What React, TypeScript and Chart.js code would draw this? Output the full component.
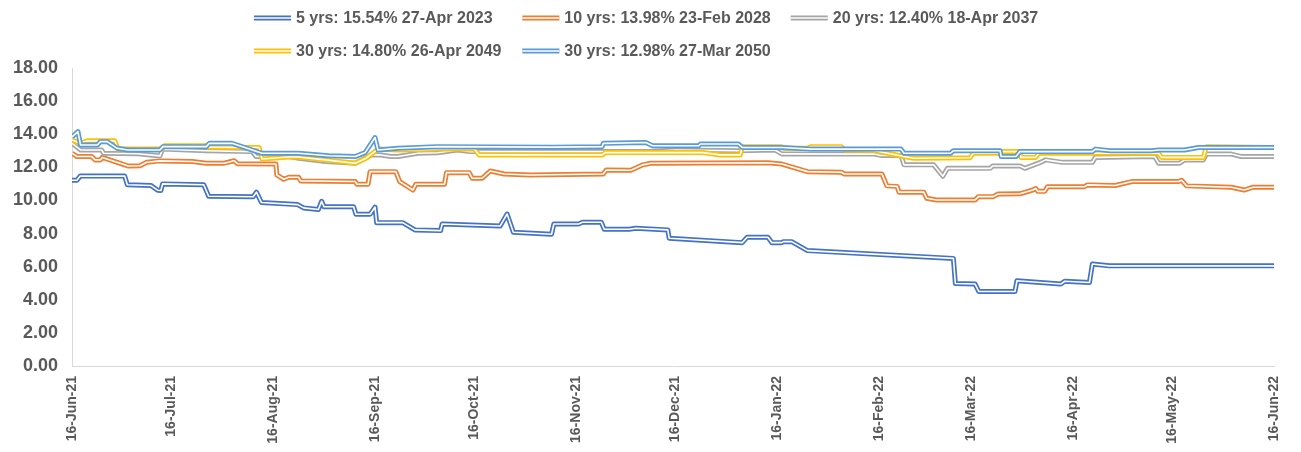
import React, { useEffect, useRef } from 'react';
import { Chart, registerables } from 'chart.js';

Chart.register(...registerables);

const seriesLabels = [
  '5 yrs: 15.54% 27-Apr 2023',
  '10 yrs: 13.98% 23-Feb 2028',
  '20 yrs: 12.40% 18-Apr 2037',
  '30 yrs: 14.80% 26-Apr 2049',
  '30 yrs: 12.98% 27-Mar 2050',
];
const seriesColors = ['#4472C4', '#ED7D31', '#A5A5A5', '#FFC000', '#5B9BD5'];

// x values are days since 16-Jun-21
const tickDays = [0, 30, 61, 92, 122, 153, 183, 214, 245, 273, 304, 334, 365];
const tickLabels = [
  '16-Jun-21', '16-Jul-21', '16-Aug-21', '16-Sep-21', '16-Oct-21', '16-Nov-21',
  '16-Dec-21', '16-Jan-22', '16-Feb-22', '16-Mar-22', '16-Apr-22', '16-May-22', '16-Jun-22',
];

const fiveYr: [number, number][] = [
  [0, 11.22], [1.5, 11.22], [2.5, 11.47], [16, 11.47], [16.8, 10.95], [24, 10.9], [26, 10.62], [27, 10.6],
  [27.5, 11.0], [40, 10.95], [41.5, 10.25], [55, 10.22], [56, 10.5], [57.5, 9.88], [68.5, 9.75], [70.3, 9.55],
  [74.8, 9.45], [75.8, 9.95], [76.5, 9.62], [85.5, 9.62], [86.2, 9.17], [90.5, 9.17], [92, 9.6], [92.5, 8.66],
  [100.4, 8.66], [104.1, 8.22], [111.9, 8.18], [112.4, 8.58], [130, 8.46], [132.1, 9.18], [134, 8.08],
  [145.6, 7.96], [146.3, 8.58], [153.8, 8.58], [155, 8.68], [160.7, 8.68], [161.6, 8.26], [169.1, 8.26],
  [171.2, 8.32], [180.9, 8.22], [181.3, 7.72], [203.5, 7.45], [205, 7.78], [211.3, 7.78], [212.5, 7.45],
  [215.5, 7.45], [216, 7.51], [218.5, 7.51], [223.3, 6.97], [267.6, 6.5], [268.2, 4.98], [274.2, 4.95],
  [275.3, 4.5], [286.3, 4.5], [286.9, 5.15], [300.2, 4.95], [301.4, 5.12], [308.9, 5.04], [309.8, 6.16],
  [314.9, 6.05], [365, 6.05],
];

const tenYr: [number, number][] = [
  [0, 12.85], [1.5, 12.65], [6, 12.65], [7, 12.45], [8.6, 12.45], [9.2, 12.6], [16, 12.15], [17, 12.08],
  [20.6, 12.1], [22.7, 12.31], [26.7, 12.39], [36.6, 12.35], [40.8, 12.25], [46.2, 12.25], [49.2, 12.4],
  [50.2, 12.22], [61.9, 12.2], [62.2, 11.54], [64.3, 11.28], [65.8, 11.4], [68.8, 11.4], [69.4, 11.18],
  [86, 11.14], [86.5, 10.98], [89.9, 10.98], [90.5, 11.74], [98.3, 11.74], [99.5, 11.14], [103.5, 10.63],
  [104.4, 10.98], [113.1, 10.98], [113.7, 11.68], [120.6, 11.68], [121.5, 11.34], [124.5, 11.34],
  [127, 11.78], [131.2, 11.6], [139, 11.54], [161.3, 11.6], [162.2, 11.84], [169.7, 11.82], [173.3, 12.15],
  [175.7, 12.25], [211.3, 12.28], [215.5, 12.2], [223.3, 11.74], [233.6, 11.7], [234.5, 11.6], [245.9, 11.6],
  [247.4, 10.88], [250.5, 10.85], [251.1, 10.5], [258.6, 10.5], [259.5, 10.13], [262.5, 10.03], [274.2, 10.03],
  [275.2, 10.23], [279.7, 10.23], [281.2, 10.39], [287.8, 10.4], [291.7, 10.63], [292.6, 10.72], [293.2, 10.55],
  [295.3, 10.55], [296.2, 10.83], [307.4, 10.83], [308.3, 10.94], [316.7, 10.9], [321.8, 11.14], [336, 11.14],
  [336.9, 11.22], [338.4, 10.88], [352, 10.8], [355.9, 10.63], [358.6, 10.8], [365, 10.8],
];

const twentyYr: [number, number][] = [
  [0, 13.46], [2.6, 13.05], [9, 13.05], [9.6, 12.85], [20, 12.82], [26.7, 12.69], [27.5, 13.1], [40.8, 13.0],
  [54.7, 12.95], [55.9, 12.65], [65.8, 12.65], [68.8, 12.55], [77, 12.35], [86, 12.25], [90.8, 12.75],
  [93.8, 12.75], [96.8, 12.65], [99, 12.65], [105, 12.85], [111, 12.88], [117, 13.05], [120.9, 12.95],
  [175, 12.95], [183.3, 13.05], [202.3, 13.0], [213.4, 13.05], [215.5, 12.81], [243.5, 12.8], [245.6, 12.72],
  [251.7, 12.72], [252.6, 12.15], [261.6, 12.15], [264.4, 11.46], [265.8, 11.94], [278.8, 11.94],
  [279.5, 12.08], [287.8, 12.08], [289.3, 11.94], [293.8, 12.28], [295.6, 12.45], [300.8, 12.3], [309.8, 12.3],
  [310.7, 12.6], [328.7, 12.65], [329.9, 12.25], [336.3, 12.25], [337.8, 12.45], [343.5, 12.45], [344.4, 12.8],
  [352, 12.8], [355, 12.65], [365, 12.65],
];

const thirtyYr2049: [number, number][] = [
  [0, 13.65], [2.6, 13.45], [4.6, 13.6], [13, 13.6], [14, 13.1], [27.3, 13.1], [28, 13.3], [40.8, 13.3],
  [41.5, 13.22], [56.8, 13.2], [57.7, 12.5], [65.8, 12.62], [68.8, 12.62], [77, 12.45], [86, 12.25],
  [89.3, 12.55], [92.9, 13.1], [99, 13.05], [111.9, 13.1], [122.1, 13.12], [123.6, 12.75], [161, 12.75],
  [162, 12.9], [191.4, 12.89], [196.8, 12.75], [202.9, 12.75], [203.5, 13.25], [215.5, 13.25], [216, 13.15],
  [223.3, 13.15], [224.5, 13.25], [233.6, 13.25], [234.5, 13.05], [243.5, 13.02], [252.6, 12.65],
  [255.6, 12.55], [272.7, 12.58], [273.6, 12.85], [281.8, 12.85], [282.1, 12.95], [287.8, 12.95], [288.1, 12.6],
  [292.6, 12.6], [293.5, 12.85], [329.9, 12.85], [330.8, 12.6], [343.5, 12.6], [344.4, 13.25], [365, 13.2],
];

const thirtyYr2050: [number, number][] = [
  [0, 13.84], [1.8, 14.16], [2.6, 13.35], [7.7, 13.35], [8.6, 13.55], [10.7, 13.55], [13.7, 13.15],
  [17, 13.05], [26.7, 13.05], [27.6, 13.25], [40.8, 13.25], [41.7, 13.45], [48.6, 13.45], [57.7, 12.85],
  [68.8, 12.85], [77.9, 12.7], [86, 12.65], [89, 12.89], [92, 13.8], [92.9, 13.05], [99, 13.15], [111, 13.25],
  [146, 13.22], [161, 13.25], [161.3, 13.45], [174.2, 13.5], [176.3, 13.3], [190.2, 13.3], [190.8, 13.41],
  [202.3, 13.41], [203.5, 13.2], [215.5, 13.2], [224.5, 13.1], [251.7, 13.1], [252.6, 12.85], [266.7, 12.85],
  [267.6, 13.0], [281.8, 13.0], [282.1, 12.65], [286.6, 12.65], [287.8, 12.95], [309.8, 12.95], [310.7, 13.1],
  [315.2, 13.0], [327.8, 13.0], [329.9, 13.05], [337.8, 13.05], [342, 13.2], [365, 13.2],
];

const allSeries = [fiveYr, tenYr, twentyYr, thirtyYr2049, thirtyYr2050];

const TEXT_COLOR = '#595959';
const FONT_FAMILY = '"Liberation Sans", Arial, sans-serif';

const gridLegend = {
  id: 'gridLegend',
  afterDraw(chart: any) {
    const ctx = chart.ctx as CanvasRenderingContext2D;
    ctx.save();
    ctx.font = `bold 16px ${FONT_FAMILY}`;
    const markerW = 37;
    const gap = 5;
    const colGap = 20;
    const rows = [[0, 1, 2], [3, 4]];
    const rowY = [18, 51];
    let maxW = 0;
    seriesLabels.forEach((t) => {
      maxW = Math.max(maxW, markerW + gap + ctx.measureText(t).width);
    });
    const colW = maxW + colGap;
    const left = 254;
    rows.forEach((row, r) => {
      row.forEach((si, c) => {
        const x = left + c * colW;
        const y = rowY[r];
        ctx.lineCap = 'butt';
        ctx.strokeStyle = seriesColors[si];
        ctx.lineWidth = 5;
        ctx.beginPath();
        ctx.moveTo(x, y);
        ctx.lineTo(x + markerW, y);
        ctx.stroke();
        ctx.strokeStyle = '#ffffff';
        ctx.lineWidth = 1.6;
        ctx.beginPath();
        ctx.moveTo(x, y);
        ctx.lineTo(x + markerW, y);
        ctx.stroke();
        ctx.fillStyle = TEXT_COLOR;
        ctx.textBaseline = 'middle';
        ctx.textAlign = 'left';
        ctx.fillText(seriesLabels[si], x + markerW + gap, y + 1);
      });
    });
    ctx.restore();
  },
};

export default function App() {
  const ref = useRef<HTMLCanvasElement>(null);

  useEffect(() => {
    document.body.style.margin = '0';
    if (!ref.current) return;
    const datasets: any[] = [];
    allSeries.forEach((s, i) => {
      const data = s.map(([x, y]) => ({ x, y }));
      datasets.push({
        label: seriesLabels[i],
        data,
        borderColor: seriesColors[i],
        backgroundColor: seriesColors[i],
        borderWidth: 5,
        pointRadius: 0,
        tension: 0,
        borderJoinStyle: 'round',
        order: 100 - 2 * i,
      });
      datasets.push({
        label: seriesLabels[i] + ' (inner)',
        data,
        borderColor: '#ffffff',
        borderWidth: 1.6,
        pointRadius: 0,
        tension: 0,
        borderJoinStyle: 'round',
        order: 99 - 2 * i,
      });
    });

    const chart = new Chart(ref.current, {
      type: 'line',
      data: { datasets },
      options: {
        responsive: false,
        animation: false,
        layout: { padding: { top: 68, right: 16, left: 0, bottom: 0 } },
        plugins: { legend: { display: false }, tooltip: { enabled: false } },
        scales: {
          x: {
            type: 'linear',
            min: 0,
            max: 365,
            afterBuildTicks: (scale: any) => {
              scale.ticks = tickDays.map((v) => ({ value: v }));
            },
            afterFit: (scale: any) => {
              scale.height = 86;
            },
            grid: { display: false, drawTicks: false },
            border: { display: true, color: '#d9d9d9', width: 1 },
            ticks: {
              autoSkip: false,
              minRotation: 90,
              maxRotation: 90,
              padding: 10,
              color: TEXT_COLOR,
              font: { family: FONT_FAMILY, size: 14, weight: 'bold' },
              callback: (_v: any, i: number) => tickLabels[i],
            },
          },
          y: {
            min: 0,
            max: 18,
            afterFit: (scale: any) => {
              scale.width = 72;
            },
            grid: { display: false, drawTicks: false },
            border: { display: true, color: '#d9d9d9', width: 1 },
            ticks: {
              stepSize: 2,
              padding: 14,
              color: TEXT_COLOR,
              font: { family: FONT_FAMILY, size: 18, weight: 'bold' },
              callback: (v: any) => Number(v).toFixed(2),
            },
          },
        },
      },
      plugins: [gridLegend],
    });
    return () => chart.destroy();
  }, []);

  return (
    <div style={{ width: 1301, height: 452, background: '#ffffff' }}>
      <canvas ref={ref} width={1301} height={452} style={{ display: 'block' }} />
    </div>
  );
}
